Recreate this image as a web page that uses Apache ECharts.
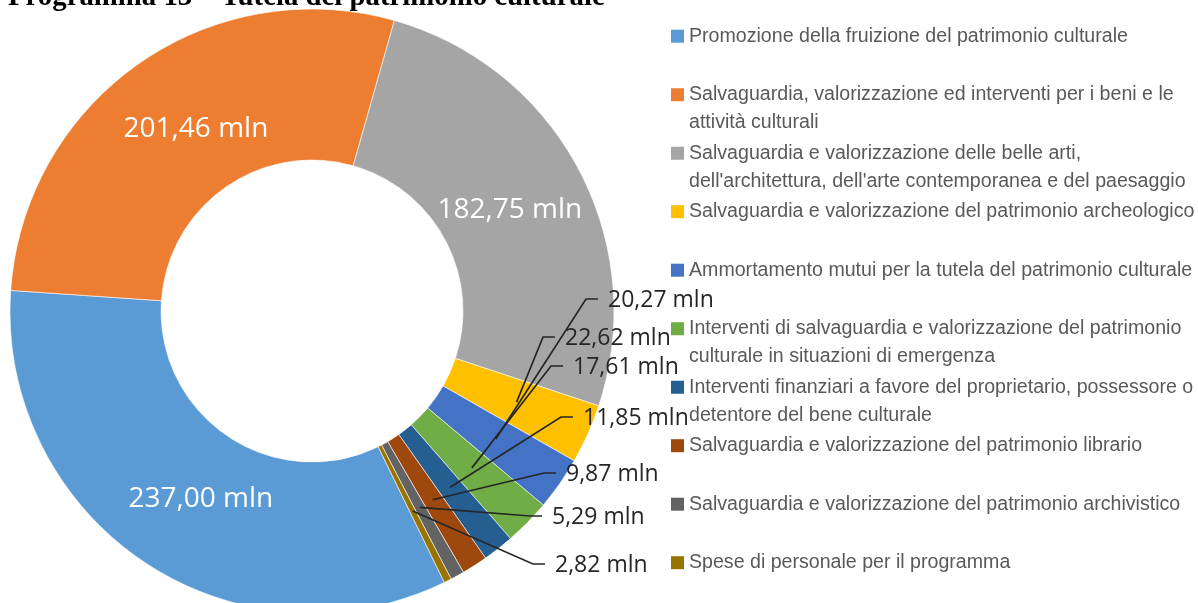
<!DOCTYPE html>
<html>
<head>
<meta charset="utf-8">
<script src="https://cdn.jsdelivr.net/npm/echarts@6/dist/echarts.min.js"></script>
<style>
  html, body { margin: 0; padding: 0; background: #ffffff; }
  #chart { width: 1198px; height: 603px; }
</style>
</head>
<body>
<div id="chart"></div>
<script>
// ---- Data ----
const chartTitle = 'Programma 13 \u2013 Tutela del patrimonio culturale';
const categories = [
  'Promozione della fruizione del patrimonio culturale',
  'Salvaguardia, valorizzazione ed interventi per i beni e le attività culturali',
  "Salvaguardia e valorizzazione delle belle arti, dell'architettura, dell'arte contemporanea e del paesaggio",
  'Salvaguardia e valorizzazione del patrimonio archeologico',
  'Ammortamento mutui per la tutela del patrimonio culturale',
  'Interventi di salvaguardia e valorizzazione del patrimonio culturale in situazioni di emergenza',
  'Interventi finanziari a favore del proprietario, possessore o detentore del bene culturale',
  'Salvaguardia e valorizzazione del patrimonio librario',
  'Salvaguardia e valorizzazione del patrimonio archivistico',
  'Spese di personale per il programma'
];
const values = [237.00, 201.46, 182.75, 22.62, 20.27, 17.61, 11.85, 9.87, 5.29, 2.82];
const legendLabels = [
  'Promozione della fruizione del patrimonio culturale',
  'Salvaguardia, valorizzazione ed interventi per i beni e le\nattività culturali',
  "Salvaguardia e valorizzazione delle belle arti,\ndell'architettura, dell'arte contemporanea e del paesaggio",
  'Salvaguardia e valorizzazione del patrimonio archeologico',
  'Ammortamento mutui per la tutela del patrimonio culturale',
  'Interventi di salvaguardia e valorizzazione del patrimonio\nculturale in situazioni di emergenza',
  'Interventi finanziari a favore del proprietario, possessore o\ndetentore del bene culturale',
  'Salvaguardia e valorizzazione del patrimonio librario',
  'Salvaguardia e valorizzazione del patrimonio archivistico',
  'Spese di personale per il programma'
];
const unit = 'mln';

// ---- Styles / layout ----
const colors = ['#5B9BD5', '#ED7D31', '#A5A5A5', '#FFC000', '#4472C4', '#70AD47', '#255E91', '#9E480E', '#636363', '#997300'];
const pieCenter = [312, 311];
const pieRadius = [151, 302];
const startAngle = -64;
const lineStartRadius = 224;
const insideCount = 3;
const insideLabelOffsets = [[17, -2], [16, 6], [-5, 7]];
// anchors (text left x, text middle y) for the outside labels, by data index
const outsideLabelAnchors = {
  3: [565, 338], 4: [608, 300], 5: [573, 367], 6: [583, 418],
  7: [566, 474], 8: [552, 517], 9: [555, 565]
};
const legendFirstY = 35, legendPitch = 58.5, legendLineH = 28, legendIcon = 13;

function fmt(v) { return v.toFixed(2).replace('.', ',') + ' ' + unit; }

const labelMap = {};
categories.forEach((c, i) => { labelMap[c] = legendLabels[i]; });

const seriesData = categories.map((name, i) => {
  const inside = i < insideCount;
  return {
    name: name,
    value: values[i],
    itemStyle: { color: colors[i] },
    label: inside ? {
      show: true, position: 'inside', color: '#ffffff',
      fontFamily: 'Open Sans', fontSize: 28, offset: insideLabelOffsets[i]
    } : {
      show: true, position: 'outside', color: '#262626',
      fontFamily: 'Open Sans', fontSize: 23
    },
    labelLine: { show: false }
  };
});

const legends = categories.map((name, i) => {
  const twoLine = legendLabels[i].indexOf('\n') >= 0;
  const h = twoLine ? legendIcon + legendLineH : legendIcon;
  return {
    data: [name],
    orient: 'vertical',
    left: 671,
    top: legendFirstY + legendPitch * i - 12.8,
    padding: 0,
    itemWidth: legendIcon,
    itemHeight: h,
    itemGap: 0,
    icon: twoLine
      ? 'path://M0,0h13v13h-13z M0,' + h + 'h0.01'
      : 'rect',
    selectedMode: false,
    itemStyle: { borderWidth: 0 },
    formatter: (n) => labelMap[n],
    textStyle: { fontFamily: 'Liberation Sans', fontSize: 19.6, color: '#595959', lineHeight: legendLineH }
  };
});

const chart = echarts.init(document.getElementById('chart'), null, { renderer: 'canvas' });
const option = {
  animation: false,
  backgroundColor: '#ffffff',
  graphic: [{
    id: 'title',
    type: 'text',
    left: 8,
    top: -17,
    style: {
      text: chartTitle,
      font: 'bold 28.8px "Liberation Serif", "Times New Roman", serif',
      fill: '#000000'
    }
  }],
  legend: legends,
  series: [{
    type: 'pie',
    center: pieCenter,
    radius: pieRadius,
    startAngle: startAngle,
    clockwise: true,
    avoidLabelOverlap: false,
    itemStyle: { borderColor: '#ffffff', borderWidth: 0.6 },
    label: { formatter: (p) => fmt(p.value) },
    labelLayout: function (p) {
      const a = outsideLabelAnchors[p.dataIndex];
      if (!a) return {};
      return { x: a[0], y: a[1], align: 'left', verticalAlign: 'middle' };
    },
    data: seriesData
  }]
};
chart.setOption(option);

// Leader lines: start at the middle of each slice (library layout), bend to the label.
function sliceMidPoint(i) {
  let lay = null;
  try {
    lay = chart.getModel().getSeriesByIndex(0).getData().getItemLayout(i);
  } catch (e) { lay = null; }
  if (lay && lay.startAngle != null) {
    const mid = (lay.startAngle + lay.endAngle) / 2;
    return [lay.cx + lineStartRadius * Math.cos(mid), lay.cy + lineStartRadius * Math.sin(mid)];
  }
  // fallback: same geometry from the values
  const total = values.reduce((s, v) => s + v, 0);
  let cum = 0;
  for (let k = 0; k < i; k++) cum += values[k];
  const midDeg = -startAngle + (cum + values[i] / 2) / total * 360;
  const rad = midDeg * Math.PI / 180;
  return [pieCenter[0] + lineStartRadius * Math.cos(rad), pieCenter[1] + lineStartRadius * Math.sin(rad)];
}
const lineGraphics = Object.keys(outsideLabelAnchors).map((key) => {
  const i = +key;
  const a = outsideLabelAnchors[i];
  const s = sliceMidPoint(i);
  return {
    id: 'leader' + i,
    type: 'polyline',
    silent: true,
    z: 10,
    shape: { points: [s, [a[0] - 22, a[1] - 1], [a[0] - 10, a[1] - 1]] },
    style: { stroke: '#262626', lineWidth: 1.7, fill: null }
  };
});
chart.setOption({ graphic: lineGraphics });
</script>
</body>
</html>
